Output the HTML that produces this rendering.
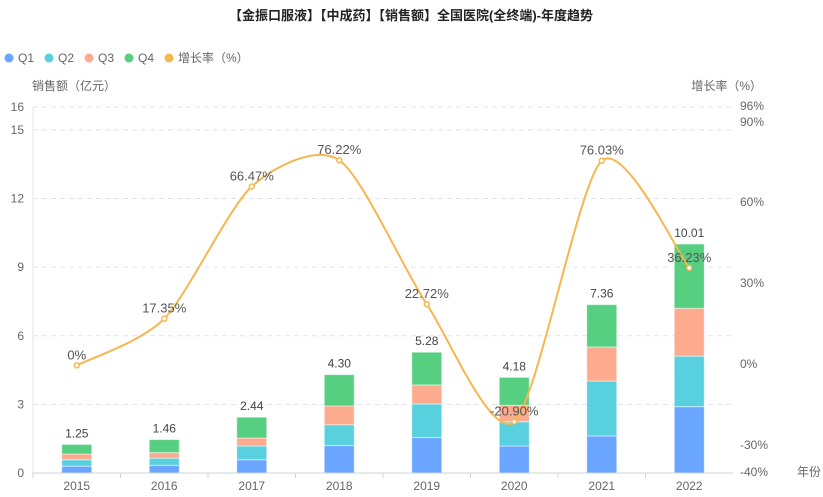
<!DOCTYPE html>
<html><head><meta charset="utf-8"><style>
body{margin:0;background:#fff;}
svg text{font-family:"Liberation Sans","Noto Sans CJK SC",sans-serif;}
</style></head><body>
<svg id="s" width="823" height="492" xmlns="http://www.w3.org/2000/svg">
<text x="411" y="20" text-anchor="middle" font-size="13" font-weight="bold" fill="#222">【金振口服液】【中成药】【销售额】全国医院(全终端)-年度趋势</text>
<g font-size="12" fill="#666">
<circle cx="9" cy="58" r="4.5" fill="#6aa5ff"/><text x="18" y="62">Q1</text>
<circle cx="49" cy="58" r="4.5" fill="#58d0de"/><text x="58" y="62">Q2</text>
<circle cx="89" cy="58" r="4.5" fill="#fcab8e"/><text x="98" y="62">Q3</text>
<circle cx="129" cy="58" r="4.5" fill="#56cf80"/><text x="138" y="62">Q4</text>
<circle cx="169" cy="58" r="4.5" fill="#f8b64e"/><text x="178" y="62">增长率（%）</text>
<text x="32" y="90">销售额（亿元）</text>
<text x="762" y="90" text-anchor="end">增长率（%）</text>
</g>
<g id="grid" stroke="#dfe3f0" stroke-dasharray="5,4"></g>
<g id="bars"></g>
<line x1="33" y1="107" x2="33" y2="473" stroke="#dfe5e5"/>
<line x1="33" y1="473" x2="733" y2="473" stroke="#ccd5d5"/>
<g id="ax" font-size="12" fill="#666"></g>
<path id="ln" fill="none" stroke="#f8b64e" stroke-width="2"/>
<g id="pts"></g>
</svg>
<script>
const NS="http://www.w3.org/2000/svg";
function el(p,t,a,txt){const e=document.createElementNS(NS,t);for(const k in a)e.setAttribute(k,a[k]);if(txt!==undefined)e.textContent=txt;document.getElementById(p).appendChild(e);return e;}
const Y=v=>473-v*22.875, R=v=>473-(v+40)*366/136;
[3,6,9,12,15,16].forEach(v=>el('grid','line',{x1:33,x2:733,y1:Y(v),y2:Y(v)}));
[0,3,6,9,12,15,16].forEach(v=>el('ax','text',{x:24,y:Y(v)+4,'text-anchor':'end'},v));
[[96,106],[90,122],[60,202],[30,283],[0,364],[-30,445],[-40,472]].forEach(a=>el('ax','text',{x:740,y:a[1]+4},a[0]+'%'));
el('ax','text',{x:797,y:476},'年份');
const yrs=[2015,2016,2017,2018,2019,2020,2021,2022];
const d=[[0.3,0.58,0.83,1.25],[0.34,0.65,0.89,1.46],[0.58,1.18,1.53,2.44],[1.2,2.11,2.93,4.30],[1.55,3.02,3.85,5.28],[1.18,2.24,2.96,4.18],[1.62,4.02,5.51,7.36],[2.9,5.11,7.2,10.01]];
const col=['#6aa5ff','#58d0de','#fcab8e','#56cf80'];
const g=[0,17.35,66.47,76.22,22.72,-20.9,76.03,36.23];
const P=[];
yrs.forEach((yr,i)=>{const cx=76.75+87.5*i;
 el('ax','line',{x1:33+87.5*i,x2:33+87.5*i,y1:473,y2:478,stroke:'#ccd5d5'});
 el('ax','text',{x:cx,y:490,'text-anchor':'middle'},yr);
 let prev=0;d[i].forEach((v,j)=>{el('bars','rect',{x:cx-15,y:Y(v),width:30,height:Y(prev)-Y(v),fill:col[j],stroke:'#fff','stroke-opacity':0.5,'stroke-width':1});prev=v;});
 el('bars','text',{x:cx,y:Y(d[i][3])-7,'text-anchor':'middle','font-size':12,fill:'#444'},d[i][3].toFixed(2));
 P.push([cx,R(g[i])]);
});
let s='M'+P[0][0]+','+P[0][1];const k=0.13;
for(let i=0;i<P.length-1;i++){const p0=P[Math.max(0,i-1)],p1=P[i],p2=P[i+1],p3=P[Math.min(P.length-1,i+2)];
 const c1=[p1[0]+(p2[0]-p0[0])*k,p1[1]+(p2[1]-p0[1])*k],c2=[p2[0]-(p3[0]-p1[0])*k,p2[1]-(p3[1]-p1[1])*k];
 s+=' C'+c1+' '+c2+' '+p2;}
document.getElementById('ln').setAttribute('d',s);
P.forEach((p,i)=>{el('pts','circle',{cx:p[0],cy:p[1],r:2.5,fill:'#fff',stroke:'#f8b64e','stroke-width':1.5});
 el('pts','text',{x:p[0],y:p[1]-6,'text-anchor':'middle','font-size':13,fill:'#555'},(i==0?'0':g[i].toFixed(2))+'%');});
</script>
</body></html>
